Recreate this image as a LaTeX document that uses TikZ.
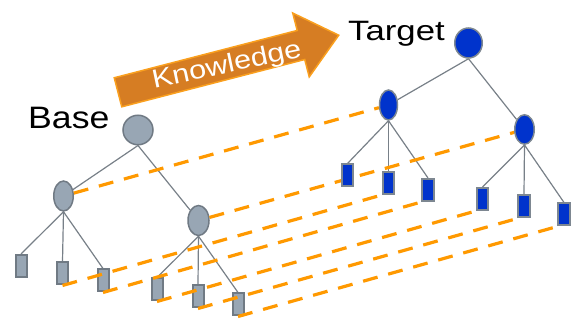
\documentclass[tikz,border=0pt]{standalone}
\usepackage{fontspec}
\setmainfont{Liberation Sans}
\usetikzlibrary{shapes.geometric}
\pgfdeclarelayer{edgel}\pgfdeclarelayer{basel}\pgfdeclarelayer{dashl}
\pgfsetlayers{edgel,basel,dashl,main}
\definecolor{basefill}{RGB}{152,166,180}
\definecolor{basedraw}{RGB}{112,122,132}
\definecolor{tgtfill}{RGB}{0,51,204}
\definecolor{tgtdraw}{RGB}{125,135,145}
\definecolor{edgec}{RGB}{120,128,136}
\definecolor{dashc}{RGB}{255,153,0}
\definecolor{arrowfill}{RGB}{214,125,35}
\definecolor{arrowdraw}{RGB}{250,160,30}
\tikzset{
  bnode/.style={ellipse,fill=basefill,draw=basedraw,line width=1.5pt,inner sep=0pt},
  tnode/.style={ellipse,fill=tgtfill,draw=tgtdraw,line width=1.5pt,inner sep=0pt},
  bleaf/.style={rectangle,fill=basefill,draw=basedraw,line width=2pt,inner sep=0pt,minimum width=11pt,minimum height=22pt},
  tleaf/.style={rectangle,fill=tgtfill,draw=tgtdraw,line width=2pt,inner sep=0pt,minimum width=11.5pt,minimum height=22pt},
  edge/.style={draw=edgec,line width=1.2pt},
  link/.style={draw=dashc,line width=3.2pt,dash pattern=on 15pt off 11pt},
  lbl/.style={inner sep=0pt,anchor=base west}
}
\begin{document}
\begin{tikzpicture}[x=1pt,y=-1pt]
\useasboundingbox (0,0) rectangle (573,328);
% arrow
\begin{scope}[shift={(118,92.3)},rotate=14.5]
  \path[fill=arrowfill,draw=arrowdraw,line width=1.5pt,line join=miter]
    (0,-15) -- (189,-15) -- (189,-33) -- (228,0) -- (189,33) -- (189,15) -- (0,15) -- cycle;
\end{scope}
\node[inner sep=0pt,rotate=12,text=white] (know) at (227,66)
  {\fontsize{26}{26}\selectfont\scalebox{1.18}[1]{Knowledge}};
% labels
\node[lbl] (baselbl) at (28,129) {\fontsize{31}{31}\selectfont\scalebox{1.15}[1]{Base}};
\node[lbl] (tgtlbl) at (348,40.7) {\fontsize{28}{28}\selectfont\scalebox{1.24}[1]{Target}};
% base tree
\begin{pgfonlayer}{basel}
\node[bnode,minimum width=30pt,minimum height=29.5pt] (br) at (138,130) {};
\node[bnode,minimum width=19.5pt,minimum height=30pt] (bl) at (63.5,196) {};
\node[bnode,minimum width=21pt,minimum height=30pt] (bc) at (198.5,220.5) {};
\node[bleaf] (b1) at (21,266) {};
\node[bleaf] (b2) at (62.5,273.5) {};
\node[bleaf] (b3) at (103,280.5) {};
\node[bleaf] (b4) at (157,289.5) {};
\node[bleaf] (b5) at (198,296.5) {};
\node[bleaf] (b6) at (238,304.5) {};
\end{pgfonlayer}
% target tree
\node[tnode,minimum width=27.5pt,minimum height=30pt] (tr) at (468.5,43) {};
\node[tnode,minimum width=18pt,minimum height=30pt] (tl) at (388.5,105) {};
\node[tnode,minimum width=19.5pt,minimum height=29.5pt] (tc) at (524.5,129.5) {};
\node[tleaf] (t1) at (347.5,175.5) {};
\node[tleaf] (t2) at (388.5,183) {};
\node[tleaf] (t3) at (428,190) {};
\node[tleaf] (t4) at (482.5,199) {};
\node[tleaf] (t5) at (524,206.5) {};
\node[tleaf] (t6) at (564,214.5) {};
% tree edges
\begin{pgfonlayer}{edgel}
\draw[edge] (br.south) -- (bl);
\draw[edge] (br.south) -- (bc);
\draw[edge] (bl.south) -- (b1.north);
\draw[edge] (bl.south) -- (b2.north);
\draw[edge] (bl.south) -- (b3.north);
\draw[edge] (bc.south) -- (b4.north);
\draw[edge] (bc.south) -- (b5.north);
\draw[edge] (bc.south) -- (b6.north);
\draw[edge] (tr.south) -- (tl);
\draw[edge] (tr.south) -- (tc);
\draw[edge] (tl.south) -- (t1.north);
\draw[edge] (tl.south) -- (t2.north);
\draw[edge] (tl.south) -- (t3.north);
\draw[edge] (tc.south) -- (t4.north);
\draw[edge] (tc.south) -- (t5.north);
\draw[edge] (tc.south) -- (t6.north);
\end{pgfonlayer}
% dashed links
\begin{pgfonlayer}{dashl}
\draw[link] (bl) -- (tl);
\draw[link] (bc) -- (tc);
\draw[link] (b2.south) -- (t2.south west);
\draw[link] (b3.south) -- (t3.south west);
\draw[link] (b4.south) -- (t4.south west);
\draw[link] (b5.south) -- (t5.south west);
\draw[link] (b6.south) -- (t6.south west);
\end{pgfonlayer}
\end{tikzpicture}
\end{document}
